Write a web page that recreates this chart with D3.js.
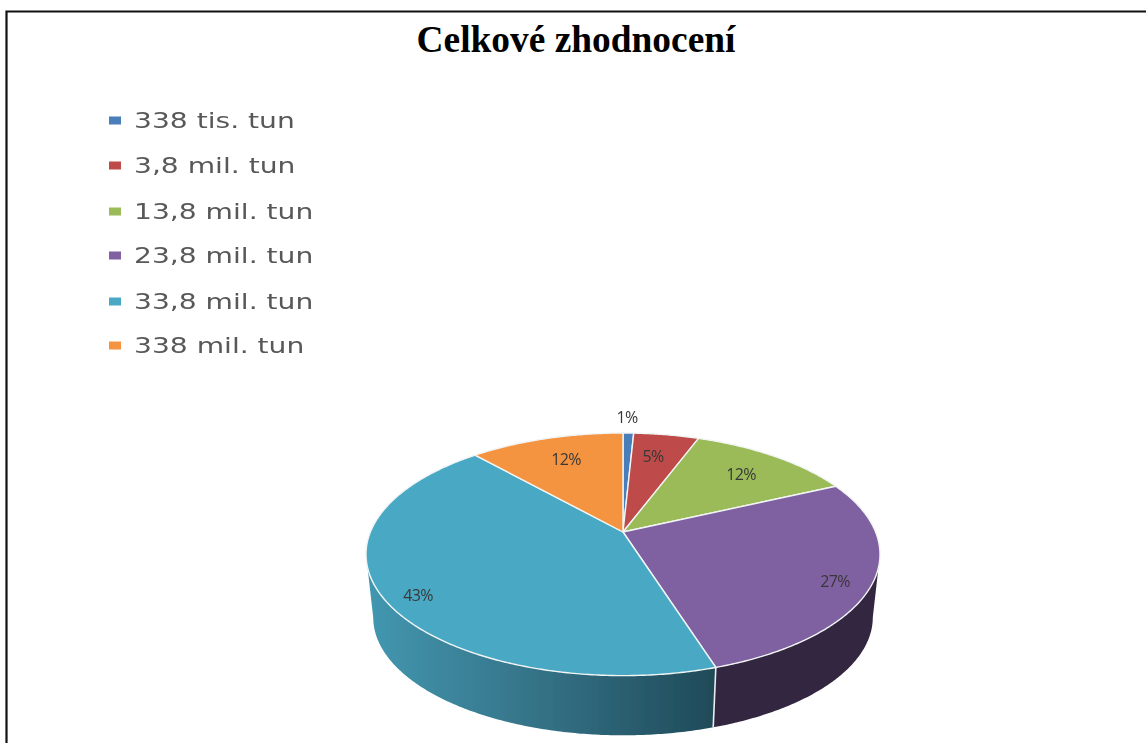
<!DOCTYPE html>
<html><head><meta charset="utf-8">
<script src="https://cdnjs.cloudflare.com/ajax/libs/d3/7.8.5/d3.min.js"></script>
<style>html,body{margin:0;padding:0;background:#fff;overflow:hidden}svg{display:block}</style>
</head><body><svg id="c" width="1146" height="743"></svg>
<script>
const title = "Celkové zhodnocení";
const categories = ["338 tis. tun","3,8 mil. tun","13,8 mil. tun","23,8 mil. tun","33,8 mil. tun","338 mil. tun"];
const shares = [0.8,4.9,12.4,27.0,43.3,11.6];
const colors = ["#4a7ebb","#be4b48","#9bbb59","#7f60a0","#4aa9c4","#f59440"];
const labelPos = [[627,417],[653,456],[741,474],[835,581],[418,595],[566,459]];
const legendY = [120,165,211,255,301,345];

const svg = d3.select("#c");
const defs = svg.append("defs");
const soft = defs.append("filter").attr("id","soft").attr("x","-5%").attr("y","-5%").attr("width","110%").attr("height","110%");
soft.append("feGaussianBlur").attr("stdDeviation",0.6);
const grad = defs.append("linearGradient").attr("id","wall").attr("gradientUnits","userSpaceOnUse")
  .attr("x1",368).attr("x2",716).attr("y1",0).attr("y2",0);
grad.append("stop").attr("offset",0).attr("stop-color","#4297b0");
grad.append("stop").attr("offset",0.45).attr("stop-color","#36758a");
grad.append("stop").attr("offset",1).attr("stop-color","#1f4a58");

// frame
svg.append("path").attr("d","M6.5,743V11.5H1146").attr("fill","none").attr("stroke","#111").attr("stroke-width",2.2);

svg.append("text").attr("x",576).attr("y",52).attr("text-anchor","middle")
  .attr("font-family","Liberation Serif").attr("font-weight","bold").attr("font-size",37.4).attr("fill","#000").text(title);

// perspective disc: x/y on unit circle, scaled by depth
const k = 0.184, Rx = 252.6, Ry = 117.2, cx = 623, cyTop = 532, cyBottom = 595.7, shrink = 0.972;
const project = (a, scale, y0) => {
  const x = Math.sin(a), y = -Math.cos(a), w = 1 - k*y;
  return [cx + scale*Rx*x/w, y0 + scale*Ry*y/w];
};
const arcPoints = (a0, a1, scale, y0) => {
  const n = Math.max(2, Math.ceil((a1-a0)/0.01));
  return d3.range(n+1).map(i => project(a0+(a1-a0)*i/n, scale, y0));
};
const line = d3.line();
const slices = d3.pie().sort(null).value(d => d)(shares);
const wallFill = ["#333","#333","#333","#32263f","url(#wall)","#333"];
const g = svg.append("g").attr("filter","url(#soft)");

// walls: only the front part between the two silhouette tangents is visible
const frontA = Math.acos(-k), frontB = 2*Math.PI-frontA;
slices.forEach((s,i) => {
  const a0 = Math.max(s.startAngle, frontA), a1 = Math.min(s.endAngle, frontB);
  if (a1 <= a0) return;
  const pts = arcPoints(a0,a1,1,cyTop).concat(arcPoints(a0,a1,shrink,cyBottom).reverse());
  g.append("path").attr("d",line(pts)+"Z").attr("fill",wallFill[i]);
});
// wall separator
const sep = slices[3].endAngle;
g.append("path").attr("d",line([project(sep,1,cyTop),project(sep,shrink,cyBottom)]))
  .attr("stroke","#e8eef0").attr("stroke-width",1.6).attr("fill","none");

// top faces
slices.forEach((s,i) => {
  const pts = [[cx,cyTop]].concat(arcPoints(s.startAngle,s.endAngle,1,cyTop));
  g.append("path").attr("d",line(pts)+"Z").attr("fill",colors[i]).attr("stroke","#f2f5f5").attr("stroke-width",1.4).attr("stroke-linejoin","round");
});

// labels
const fmt = d3.format(".0f");
slices.forEach((s,i) => {
  g.append("text").attr("x",labelPos[i][0]).attr("y",labelPos[i][1]).attr("dy","0.35em")
   .attr("text-anchor","middle").attr("font-family","Open Sans").attr("font-size",16).attr("letter-spacing",-0.6)
   .attr("fill","#383838").text(fmt(s.value)+"%");
});

// legend (text is stretched horizontally in the reference)
const lg = svg.append("g").attr("filter","url(#soft)");
categories.forEach((c,i) => {
  lg.append("rect").attr("x",109).attr("y",legendY[i]-3.5).attr("width",12).attr("height",8).attr("fill",colors[i]);
  lg.append("text").attr("transform",`translate(134,${legendY[i]}) scale(1.28,1)`).attr("dy","0.35em")
    .attr("font-family","DejaVu Sans").attr("font-size",22).attr("fill","#595959").text(c);
});
</script></body></html>
